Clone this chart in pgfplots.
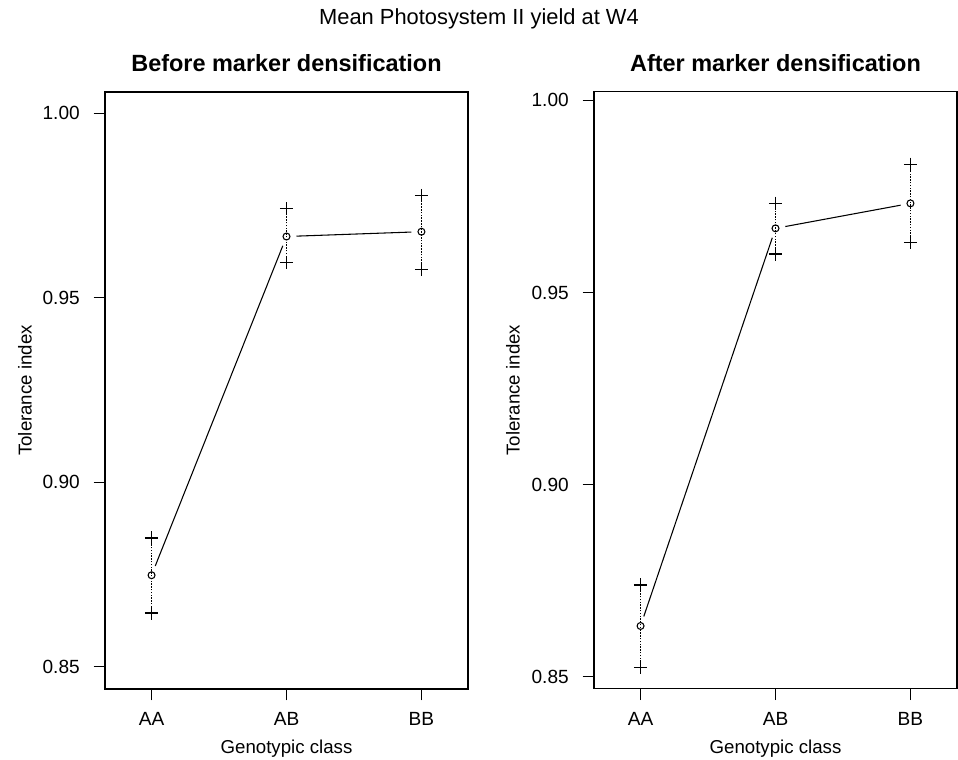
\documentclass[border=0pt]{standalone}
\usepackage{pgfplots}
\pgfplotsset{compat=1.18}
\usepackage{fontspec}
\setmainfont{Liberation Sans}
\pgfplotsset{
  panel/.style={
    scale only axis, width=272.25pt, height=447.75pt,
    axis line style={line width=1pt}, every tick/.style={line width=1pt, black},
    tick align=outside, major tick length=8.5pt,
    xtick pos=bottom, ytick pos=left,
    xtick={1,2,3}, xticklabels={AA,AB,BB},
    xmin=0.655, xmax=3.345,
    ytick={0.85,0.90,0.95,1.00},
    yticklabel style={/pgf/number format/fixed, /pgf/number format/fixed zerofill, /pgf/number format/precision=2, /pgf/number format/assume math mode=true},
    ticklabel style={font=\fontsize{14.3}{16}\selectfont},
    yticklabel style={anchor=east, inner sep=0pt, xshift=-10.25pt},
    xticklabel style={anchor=center, inner sep=0pt},
    x tick label style={yshift=-14pt},
    label style={font=\fontsize{14}{16}\selectfont},
    title style={font=\fontsize{17.6}{20}\selectfont\bfseries, anchor=center},
    xlabel={Genotypic class}, ylabel={Tolerance index},
    xlabel style={at={(axis description cs:0.5,-0.1005)}, anchor=center, inner sep=0pt},
    clip=false,
  },
  seg/.style={black, line width=0.8pt, no marks, shorten <=7.5pt, shorten >=7.5pt},
  bar/.style={black, line width=1.1pt, densely dotted, no marks},
  ends/.style={black, only marks, mark=+, mark size=5pt, mark options={line width=1pt}},
  mean/.style={black, only marks, mark=o, mark size=2.6pt, mark options={line width=0.8pt, fill=white}},
}
\begin{document}
\begin{tikzpicture}
\useasboundingbox (0,0) rectangle (718.5pt,570pt);
\node[font=\fontsize{16.4}{18}\selectfont, anchor=center] at (359.25pt,556pt) {Mean Photosystem II yield at W4};
% Left panel
\begin{axis}[panel, at={(78.75pt,53.25pt)}, anchor=south west,
  ymin=0.84397, ymax=1.00576,
  title={Before marker densification}, title style={at={(axis description cs:0.5,1.0352)}},
  ylabel style={at={(axis description cs:-0.2204,0.5)}, anchor=center, rotate=0, inner sep=0pt}]
\addplot[bar] coordinates {(1,0.8646) (1,0.8849)};
\addplot[bar] coordinates {(2,0.9595) (2,0.9741)};
\addplot[bar] coordinates {(3,0.9577) (3,0.9777)};
\addplot[seg] coordinates {(1,0.8748) (2,0.9666)};
\addplot[seg] coordinates {(2,0.9666) (3,0.9679)};
\addplot[ends] coordinates {(1,0.8646) (1,0.8849) (2,0.9595) (2,0.9741) (3,0.9577) (3,0.9777)};
\addplot[mean] coordinates {(1,0.8748) (2,0.9666) (3,0.9679)};
\end{axis}
% Right panel
\begin{axis}[panel, at={(445.5pt,53.475pt)}, anchor=south west,
  ymin=0.84687, ymax=1.00227,
  title={After marker densification}, title style={at={(axis description cs:0.5,1.035)}},
  ylabel style={at={(axis description cs:-0.223,0.5)}, anchor=center, rotate=0, inner sep=0pt}]
\addplot[bar] coordinates {(1,0.8524) (1,0.8739)};
\addplot[bar] coordinates {(2,0.9600) (2,0.9732)};
\addplot[bar] coordinates {(3,0.9631) (3,0.9834)};
\addplot[seg] coordinates {(1,0.8632) (2,0.9667)};
\addplot[seg] coordinates {(2,0.9667) (3,0.9732)};
\addplot[ends] coordinates {(1,0.8524) (1,0.8739) (2,0.9600) (2,0.9732) (3,0.9631) (3,0.9834)};
\addplot[mean] coordinates {(1,0.8632) (2,0.9667) (3,0.9732)};
\end{axis}
\end{tikzpicture}
\end{document}
